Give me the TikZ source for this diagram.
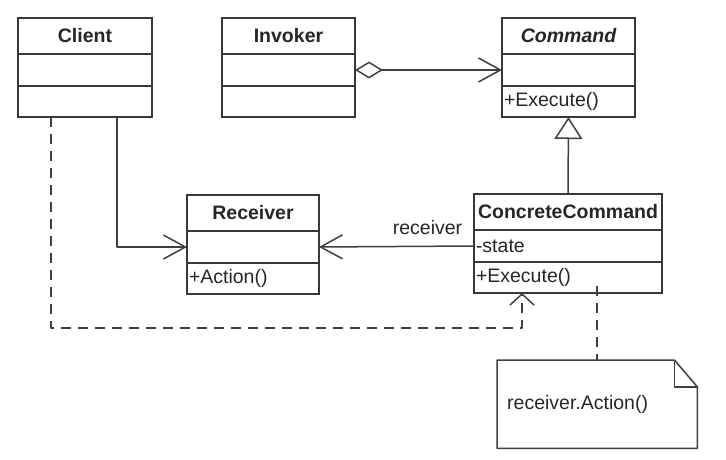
\documentclass[tikz,border=0pt]{standalone}
\usepackage{fontspec}
\setmainfont{Liberation Sans}
\usetikzlibrary{arrows.meta,calc}

% One UML class as three stacked compartments: #1 name, #2 x, #3 y,
% #4 width, #5 inner text width, #6 title, #7 attributes, #8 operations
\newcommand\umlclass[8]{%
  \node[titlebox, minimum width=#4pt, text width=#5pt] (#1-h) at (#2,#3) {#6};
  \node[slotbox, minimum width=#4pt, text width=#5pt, minimum height=32pt] (#1-a) at (#1-h.south west) {#7};
  \node[slotbox, minimum width=#4pt, text width=#5pt, minimum height=31pt] (#1-o) at (#1-a.south west) {#8};
}

\begin{document}
\begin{tikzpicture}[x=1pt, y=-1pt,
  box/.style={draw=black!78, line width=1.5pt, inner xsep=2pt, inner ysep=0pt,
    outer sep=0pt, anchor=north west, text=black!85,
    font=\fontsize{19.5}{22}\selectfont},
  titlebox/.style={box, minimum height=36pt, align=center,
    font=\bfseries\fontsize{19.5}{22}\selectfont},
  slotbox/.style={box, align=left},
  link/.style={draw=black!75, line width=1.5pt, line join=round},
  dep/.style={link, dash pattern=on 10pt off 7pt},
  barb/.style={-{Straight Barb[length=22pt, width=24pt]}},
  shortbarb/.style={-{Straight Barb[length=11pt, width=24pt]}},
  realize/.style={-{Triangle[open, length=22pt, width=28pt]}},
  aggregate/.style={{Diamond[open, length=28pt, width=17pt]}-{Straight Barb[length=22pt, width=24pt]}},
]
\fill[white] (0,0) rectangle (726,460);
\useasboundingbox (0,0) rectangle (726,460);

% classes
\umlclass{client}{18}{18}{134}{130}{Client}{}{}
\umlclass{inv}{222}{18}{133}{129}{Invoker}{}{}
\umlclass{cmd}{502}{18}{133}{129}{\itshape Command}{}{+Execute()}
\umlclass{rcv}{187}{195}{132}{128}{Receiver}{}{+Action()}
\umlclass{cc}{474}{194}{188}{184}{ConcreteCommand}{-state}{+Execute()}

% note attached to ConcreteCommand
\node[anchor=north west, minimum width=200pt, minimum height=88pt,
      inner xsep=10pt, text width=180pt, align=left, text=black!85,
      font=\fontsize{19.5}{22}\selectfont] (note) at (497,360) {receiver.Action()};
\draw[link]
  (note.north west) -- ($(note.north east)+(-23,0)$) -- ($(note.north east)+(0,27)$)
  -- (note.south east) -- (note.south west) -- cycle;
\draw[link] ($(note.north east)+(-23,0)$) |- ($(note.north east)+(0,27)$);

% connectors
\draw[link, aggregate] (inv-a.east) -- (cmd-a.west);
\draw[link, realize] (cc-h.north) -- (cmd-o.south);
\draw[link, barb] (cc-a.west) -- node[pos=0.3, above=11pt, inner sep=0pt, text=black!85,
  font=\fontsize{19.5}{22}\selectfont] (rolelabel) {receiver} (rcv-a.west -| rcv-a.east);
\coordinate (client-assoc) at ($(client-o.south west)+(99,0)$);
\draw[link, barb] (client-assoc) |- (rcv-a.west);
\coordinate (client-dep) at ($(client-o.south west)+(33,0)$);
\coordinate (cc-dep) at ($(cc-o.south west)+(48,0)$);
\draw[dep, shortbarb] (client-dep) |- ($(cc-dep)+(0,35)$) -- (cc-dep);
\coordinate (note-top) at ($(note.north |- cc-o.south)+(0,-7)$);
\draw[dep] (note-top) -- (note.north);
\end{tikzpicture}
\end{document}
